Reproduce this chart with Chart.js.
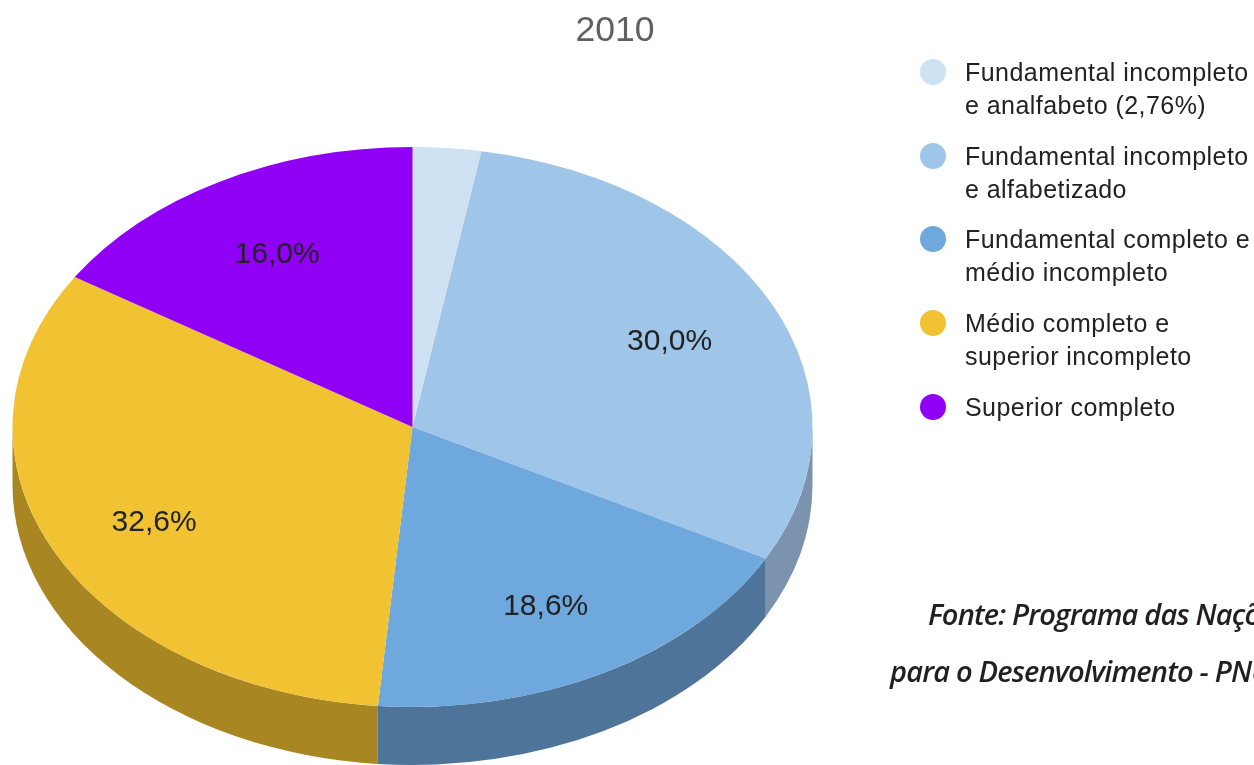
<!DOCTYPE html>
<html lang="pt"><head><meta charset="utf-8">
<style>
html,body{margin:0;padding:0;background:#fff;width:1254px;height:765px;overflow:hidden}
#wrap{position:relative;width:1254px;height:765px;overflow:hidden}
canvas{position:absolute;left:0;top:0}
.leg{position:absolute;left:965px;font:25px/32.5px "Liberation Sans",Arial,sans-serif;letter-spacing:.45px;color:#222;white-space:nowrap}
.dot{position:absolute;left:920px;width:26px;height:26px;border-radius:50%}
.src{position:absolute;font:italic 600 29px "Open Sans",sans-serif;letter-spacing:-.82px;color:#231f20;white-space:nowrap}
</style></head><body>
<div id="wrap"><canvas id="c" width="1254" height="765"></canvas></div>
<script src="https://cdn.jsdelivr.net/npm/chart.js@4/dist/chart.umd.min.js"></script>
<script>
const titleText = '2010';
const categories = [
  ['Fundamental incompleto','e analfabeto (2,76%)'],
  ['Fundamental incompleto','e alfabetizado'],
  ['Fundamental completo e','médio incompleto'],
  ['Médio completo e','superior incompleto'],
  ['Superior completo']
];
const values = [2.76, 30.0, 18.6, 32.6, 16.0];
const sliceLabels = ['', '30,0%', '18,6%', '32,6%', '16,0%'];
const topColors = ['#cfe2f3','#9fc5e8','#6fa8dc','#f1c232','#9000f5'];
const wallColors = ['#8b9cad','#7b93ae','#4f7499','#a88622','#6a00b0'];
const legendY = [57,141,224,308,392];
const sourceLines = ['Fonte: Programa das Nações Unidas','para o Desenvolvimento - PNUD'];

const wrap = document.getElementById('wrap');
categories.forEach((lines,i)=>{
  const d=document.createElement('div');d.className='dot';d.style.top=(legendY[i]+2)+'px';d.style.background=topColors[i];wrap.appendChild(d);
  const t=document.createElement('div');t.className='leg';t.style.top=(legendY[i]-1)+'px';t.innerHTML=lines.join('<br>');wrap.appendChild(t);
});
[[928,594],[890,651]].forEach((p,i)=>{
  const s=document.createElement('div');s.className='src';s.style.left=p[0]+'px';s.style.top=p[1]+'px';s.textContent=sourceLines[i];wrap.appendChild(s);
});

const SQUASH = 0.7, DEPTH = 58;
const labelNudge = [[0,0],[5.5,-2],[-0.5,5],[-7.5,6],[-0.5,-4]];
const pie3d = {
  id:'pie3d',
  beforeDatasetsDraw(chart){
    const ctx=chart.ctx, arcs=chart.getDatasetMeta(0).data;
    const cy=arcs[0].y;
    arcs.forEach((a,i)=>{
      const s=Math.max(a.startAngle,0), e=Math.min(a.endAngle,Math.PI);
      if(e<=s) return;
      ctx.beginPath();
      ctx.ellipse(a.x,cy,a.outerRadius,a.outerRadius*SQUASH,0,s,e);
      ctx.ellipse(a.x,cy+DEPTH,a.outerRadius,a.outerRadius*SQUASH,0,e,s,true);
      ctx.closePath();
      ctx.fillStyle=wallColors[i];ctx.fill();
    });
    ctx.save();
    ctx.translate(0,cy);ctx.scale(1,SQUASH);ctx.translate(0,-cy);
    arcs.forEach(a=>a.draw(ctx));
    ctx.restore();
    ctx.save();
    ctx.fillStyle='#222';ctx.font='30px "Liberation Sans",Arial,sans-serif';
    ctx.textAlign='center';ctx.textBaseline='middle';
    arcs.forEach((a,i)=>{
      if(!sliceLabels[i]) return;
      const m=(a.startAngle+a.endAngle)/2, r=a.outerRadius*0.7;
      ctx.fillText(sliceLabels[i],a.x+r*Math.cos(m)+labelNudge[i][0],cy+r*SQUASH*Math.sin(m)+3+labelNudge[i][1]);
    });
    ctx.fillStyle='#606060';ctx.font='35.5px "Liberation Sans",Arial,sans-serif';
    ctx.fillText(titleText,615,31);
    ctx.restore();
    return false;
  }
};
new Chart(document.getElementById('c'),{
  type:'pie',
  data:{labels:categories.map(l=>l.join(' ')),datasets:[{data:values,backgroundColor:topColors,borderWidth:0,clip:false}]},
  options:{
    responsive:false,animation:false,radius:400,
    layout:{padding:{left:0,right:429,top:89,bottom:0}},
    plugins:{legend:{display:false},tooltip:{enabled:false},title:{display:false}}
  },
  plugins:[pie3d]
});
</script></body></html>
